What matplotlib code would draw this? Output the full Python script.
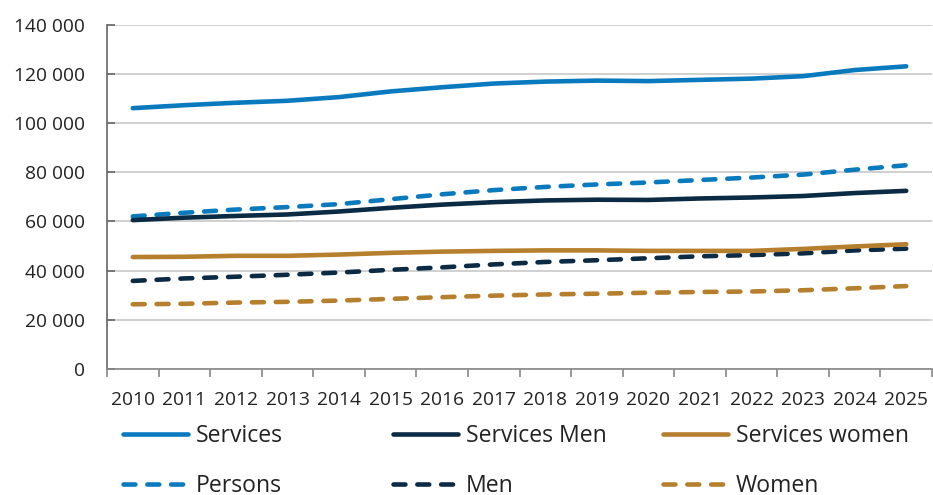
import matplotlib
matplotlib.use("Agg")
import matplotlib.pyplot as plt
import numpy as np

plt.rcParams['font.family'] = ['Open Sans', 'DejaVu Sans']

years = [str(y) for y in range(2010, 2026)]
services = [106000, 107200, 108200, 109000, 110500, 112800, 114500, 116000,
            116800, 117200, 117000, 117500, 118000, 119000, 121500, 123000]
persons = [62000, 63500, 64800, 65800, 67000, 69000, 71000, 72700,
           74000, 75000, 75800, 76800, 77800, 79000, 81000, 82800]
services_men = [60500, 61500, 62200, 62800, 64000, 65500, 66800, 67800,
                68500, 68800, 68700, 69300, 69700, 70300, 71500, 72400]
men = [35800, 36800, 37500, 38300, 39200, 40300, 41300, 42500,
       43500, 44200, 45000, 45800, 46300, 47000, 48200, 48900]
services_women = [45500, 45600, 46000, 46000, 46500, 47200, 47700, 48000,
                  48200, 48200, 48000, 48000, 48000, 48800, 49800, 50700]
women = [26300, 26500, 27000, 27300, 27800, 28500, 29200, 29800,
         30300, 30600, 31000, 31300, 31500, 32000, 32800, 33700]

blue = '#0a7abf'
navy = '#0b2a43'
gold = '#b57f2d'

fig = plt.figure(figsize=(9.33, 4.95), dpi=100)
ax = fig.add_axes([107/933, 1-369/495, (932-107)/933, (369-24.5)/495])

x = np.arange(len(years))
lw = 3.3
dash = (2.6, 2.6)
series = [
    ('Services', services, blue, '-'),
    ('Persons', persons, blue, '--'),
    ('Services Men', services_men, navy, '-'),
    ('Men', men, navy, '--'),
    ('Services women', services_women, gold, '-'),
    ('Women', women, gold, '--'),
]
handles = {}
for name, vals, col, ls in series:
    if ls == '-':
        ln, = ax.plot(x, vals, color=col, lw=lw, solid_capstyle='round', solid_joinstyle='round')
    else:
        ln, = ax.plot(x, vals, color=col, lw=lw, dashes=dash, dash_capstyle='round')
    handles[name] = ln

ax.set_xlim(-0.5, len(years) - 0.5)
ax.set_ylim(0, 140000)
ax.set_yticks(np.arange(0, 140001, 20000))
ax.set_yticklabels([f"{v:,}".replace(',', ' ') for v in range(0, 140001, 20000)])
ax.yaxis.grid(True, color='#c8c8c8', lw=1.2)
ax.set_axisbelow(True)

ax.set_xticks(x)
ax.set_xticklabels(years)
ax.set_xticks(np.arange(-0.5, len(years)), minor=True)
ax.tick_params(axis='x', which='major', length=0, pad=16, labelsize=13.8, labelcolor='#222222')
ax.tick_params(axis='x', which='minor', length=6, color='#888888', width=1.2)
ax.tick_params(axis='y', which='major', direction='in', length=6, color='#666666', width=1.2,
               pad=16, labelsize=13.8, labelcolor='#222222')

for s in ['top', 'right']:
    ax.spines[s].set_visible(False)
ax.spines['left'].set_color('#666666')
ax.spines['bottom'].set_color('#888888')
ax.spines['left'].set_linewidth(1.2)
ax.spines['bottom'].set_linewidth(1.2)

cols = [(['Services', 'Persons'], 123), (['Services Men', 'Men'], 393), (['Services women', 'Women'], 663)]
for names, xpx in cols:
    leg = fig.legend([handles[n] for n in names], names, loc='upper left',
                     bbox_to_anchor=(xpx/933, 1 - 424/495), frameon=False,
                     fontsize=16.6, handlelength=2.8, handletextpad=0.35,
                     labelspacing=1.12, borderpad=0, borderaxespad=0)
    for t in leg.get_texts():
        t.set_color('#222222')

fig.savefig('out.png', dpi=100)
